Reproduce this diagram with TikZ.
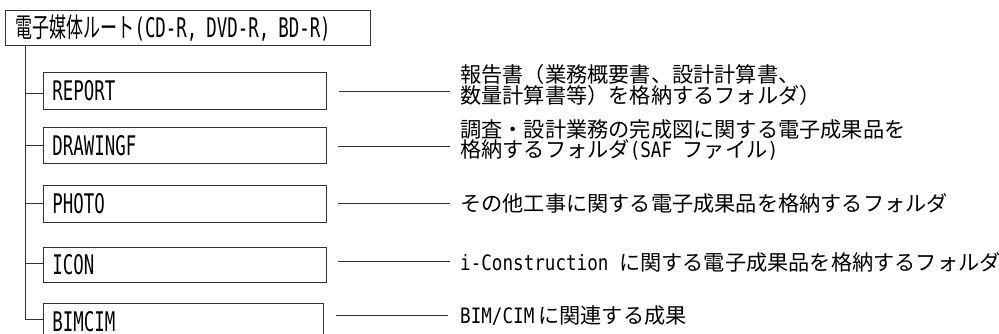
\documentclass[tikz,border=0pt]{standalone}
\usepackage{fontspec}
\newfontfamily\jpfont{Noto Sans CJK JP}
\newfontfamily\jpnarrow[FakeStretch=0.63]{Noto Sans CJK JP}
\newfontfamily\hwmono[FakeStretch=0.83]{DejaVu Sans Mono}
\newfontfamily\boxmono[FakeStretch=0.645]{DejaVu Sans Mono}
\newcommand{\hw}[1]{{\hwmono #1}}
\newcommand{\bw}[1]{{\boxmono #1}}
\begin{document}
\begin{tikzpicture}[x=1pt,y=-1pt,
  folder/.style={draw=black!80, line width=0.9pt, anchor=north west,
    minimum height=37pt, minimum width=283pt, text width=265pt,
    inner xsep=9pt, inner ysep=0pt, align=left,
    font=\fontsize{27}{27}\selectfont\jpnarrow},
  link/.style={draw=black!80, line width=0.9pt},
  desc/.style={anchor=west, inner sep=0pt, align=left,
    font=\fontsize{21.2}{20}\selectfont\jpfont}]
\useasboundingbox (0,0) rectangle (999,334);

% root
\node[folder, minimum width=365pt, text width=345pt, inner xsep=10pt, minimum height=35pt] (root) at (5,10)
  {電子媒体ルート\bw{(CD-R, DVD-R, BD-R)}};

% folders
\node[folder] (rep) at (43,72) {\bw{REPORT}};
\node[folder, minimum height=36pt] (drw) at (43,127) {\bw{DRAWINGF}};
\node[folder] (pho) at (43,185) {\bw{PHOTO}};
\node[folder, minimum height=35pt] (ico) at (43,247) {\bw{ICON}};
\node[folder, minimum width=280pt, text width=262pt, minimum height=36pt] (bim) at (43,303) {\bw{BIMCIM}};

% trunk and branches
\coordinate (tb) at (25,319);
\coordinate (b1) at (25,93);
\coordinate (b2) at (25,145);
\coordinate (b3) at (25,203);
\coordinate (b4) at (25,263);
\draw[link] (root.south west -| tb) -- (tb) -- (tb -| bim.west);
\draw[link] (b1) -- (b1 -| rep.west);
\draw[link] (b2) -- (b2 -| drw.west);
\draw[link] (b3) -- (b3 -| pho.west);
\draw[link] (b4) -- (b4 -| ico.west);

% descriptions
\node[desc] (d1) at (460,85) {報告書（業務概要書、設計計算書、\\数量計算書等）を格納するフォルダ）};
\node[desc] (d2) at (460,140) {調査・設計業務の完成図に関する電子成果品を\\格納するフォルダ\hw{(SAF }ファイル\hw{)}};
\node[desc] (d3) at (460,203) {その他工事に関する電子成果品を格納するフォルダ};
\node[desc] (d4) at (460,262) {\hw{i-Construction }に関する電子成果品を格納するフォルダ};
\node[desc] (d5) at (460,316) {\hw{BIM/CIM}\hspace{4pt}に関連する成果};

% leader lines
\coordinate (l1a) at (339,91);  \coordinate (l1b) at (450,91);
\coordinate (l2a) at (338,146); \coordinate (l2b) at (450,146);
\coordinate (l3a) at (338,203); \coordinate (l3b) at (450,203);
\coordinate (l4a) at (338,261); \coordinate (l4b) at (450,261);
\coordinate (l5a) at (336,315); \coordinate (l5b) at (448,315);
\draw[link] (l1a) -- (l1b);
\draw[link] (l2a) -- (l2b);
\draw[link] (l3a) -- (l3b);
\draw[link] (l4a) -- (l4b);
\draw[link] (l5a) -- (l5b);
\end{tikzpicture}
\end{document}
